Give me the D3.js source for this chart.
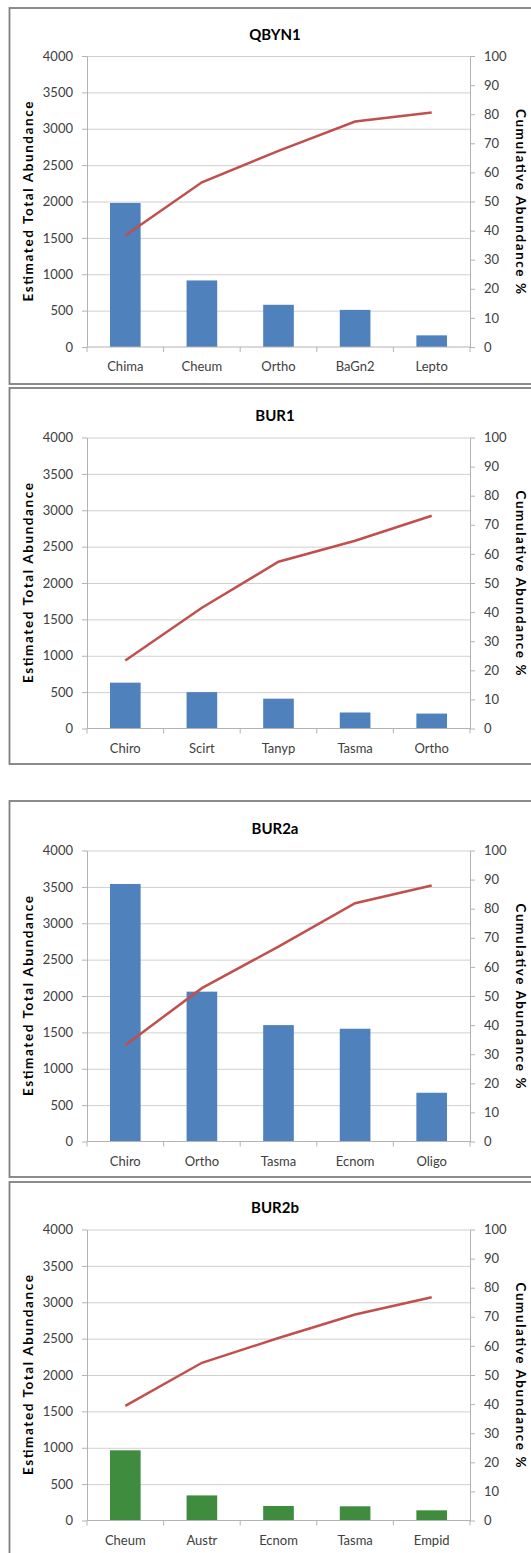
<!DOCTYPE html>
<meta charset="utf-8">
<style>
body { margin: 0; background: #fff; font-family: Lato, 'Open Sans', sans-serif; }
.tick text { fill: #404040; font-size: 13px; font-family: Lato, sans-serif; }
.grid line { stroke: #d0d0d0; }
.grid path { display: none; }
.title { font-size: 15px; font-weight: bold; fill: #000; }
.ytitle { font-size: 13.5px; font-weight: bold; fill: #000; }
</style>
<body>
<script src="https://d3js.org/d3.v7.min.js"></script>
<script>
// panel names + taxa + values
var sites = ["QBYN1", "BUR1", "BUR2a", "BUR2b"];

var taxaQBYN1 = ["Chima", "Cheum", "Ortho", "BaGn2", "Lepto"];
var abundQBYN1 = [1980, 915, 580, 510, 160];
var cumQBYN1 = [38.3, 56.6, 67.4, 77.5, 80.6];

var taxaBUR1 = ["Chiro", "Scirt", "Tanyp", "Tasma", "Ortho"];
var abundBUR1 = [630, 500, 410, 220, 205];
var cumBUR1 = [23.4, 41.5, 57.3, 64.5, 73.1];

var taxaBUR2a = ["Chiro", "Ortho", "Tasma", "Ecnom", "Oligo"];
var abundBUR2a = [3540, 2060, 1600, 1550, 670];
var cumBUR2a = [33.1, 52.7, 67.0, 81.9, 88.0];

var taxaBUR2b = ["Cheum", "Austr", "Ecnom", "Tasma", "Empid"];
var abundBUR2b = [965, 345, 200, 195, 140];
var cumBUR2b = [39.4, 54.2, 62.7, 70.8, 76.7];

var leftTicks = [0, 500, 1000, 1500, 2000, 2500, 3000, 3500, 4000];
var rightTicks = [0, 10, 20, 30, 40, 50, 60, 70, 80, 90, 100];

var panels = [
  { name: sites[0], taxa: taxaQBYN1, abund: abundQBYN1, cum: cumQBYN1, color: "#4f81bd", top: 8, plotTop: 56 },
  { name: sites[1], taxa: taxaBUR1, abund: abundBUR1, cum: cumBUR1, color: "#4f81bd", top: 388, plotTop: 437.5 },
  { name: sites[2], taxa: taxaBUR2a, abund: abundBUR2a, cum: cumBUR2a, color: "#4f81bd", top: 801, plotTop: 850.5 },
  { name: sites[3], taxa: taxaBUR2b, abund: abundBUR2b, cum: cumBUR2b, color: "#3f8c3f", top: 1182, plotTop: 1229.5 }
];

var W = 531, H = 1553;
var left = 87, right = 470, plotH = 291, boxH = 376;
var fmt = d3.format("d");

var svg = d3.select("body").append("svg")
  .attr("width", W).attr("height", H);

panels.forEach(function(p) {
  // frame
  svg.append("rect")
    .attr("x", 9.5).attr("y", p.top)
    .attr("width", 540).attr("height", boxH)
    .attr("fill", "none").attr("stroke", "#7f7f7f").attr("stroke-width", 1.8);

  var g = svg.append("g").attr("transform", "translate(0," + p.plotTop + ")");

  var x = d3.scaleBand().domain(p.taxa).range([left, right])
    .paddingInner(0.6).paddingOuter(0.3);
  var y = d3.scaleLinear().domain([0, 4000]).range([plotH, 0]);
  var yR = d3.scaleLinear().domain([0, 100]).range([plotH, 0]);

  // gridlines
  g.append("g").attr("class", "grid")
    .attr("transform", "translate(" + left + ",0)")
    .call(d3.axisLeft(y).tickValues(leftTicks.slice(1)).tickSize(-(right - left)).tickFormat(""));

  // left axis
  var ax = g.append("g").attr("transform", "translate(" + left + ",0)")
    .call(d3.axisLeft(y).tickValues(leftTicks).tickFormat(fmt).tickSize(5).tickSizeOuter(0).tickPadding(9));
  ax.selectAll("path, line").attr("stroke", "#b3b3b3");

  // right axis
  var axR = g.append("g").attr("transform", "translate(" + right + ",0)")
    .call(d3.axisRight(yR).tickValues(rightTicks).tickFormat(fmt).tickSize(5).tickSizeOuter(0).tickPadding(9));
  axR.selectAll("path, line").attr("stroke", "#b3b3b3");

  // bars
  g.selectAll(".bar").data(p.taxa).enter().append("rect")
    .attr("x", function(d) { return x(d); })
    .attr("width", x.bandwidth())
    .attr("y", function(d, i) { return y(p.abund[i]); })
    .attr("height", function(d, i) { return plotH - y(p.abund[i]); })
    .attr("fill", p.color);

  // x axis baseline + category labels
  var axX = g.append("g").attr("transform", "translate(0," + plotH + ")")
    .call(d3.axisBottom(x).tickSize(0).tickPadding(15));
  axX.select("path").attr("stroke", "#b3b3b3").attr("d", "M" + left + ",0H" + right);

  // boundary ticks between categories
  var edges = p.taxa.map(function(d) { return x(d) - x.step() * x.paddingOuter(); }).concat([right]);
  g.selectAll(".xtick").data(edges).enter().append("line")
    .attr("x1", function(d) { return d; }).attr("x2", function(d) { return d; })
    .attr("y1", plotH).attr("y2", plotH + 5)
    .attr("stroke", "#b3b3b3");

  // cumulative line
  var line = d3.line()
    .x(function(d, i) { return x(p.taxa[i]) + x.bandwidth() / 2; })
    .y(function(d) { return yR(d); });
  g.append("path").datum(p.cum)
    .attr("d", line)
    .attr("fill", "none").attr("stroke", "#c0504d").attr("stroke-width", 2.5);

  // titles
  g.append("text").attr("class", "title")
    .attr("x", 275).attr("y", -20)
    .attr("text-anchor", "middle").attr("dominant-baseline", "middle")
    .text(p.name);

  g.append("text").attr("class", "ytitle")
    .attr("transform", "translate(30," + plotH / 2 + ") rotate(-90)")
    .attr("text-anchor", "middle").attr("dominant-baseline", "middle")
    .attr("textLength", 200).attr("lengthAdjust", "spacing")
    .text("Estimated Total Abundance");

  g.append("text").attr("class", "ytitle")
    .attr("transform", "translate(519," + plotH / 2 + ") rotate(90)")
    .attr("text-anchor", "middle").attr("dominant-baseline", "middle")
    .attr("textLength", 185).attr("lengthAdjust", "spacing")
    .text("Cumulative Abundance %");
});
</script>
</body>
